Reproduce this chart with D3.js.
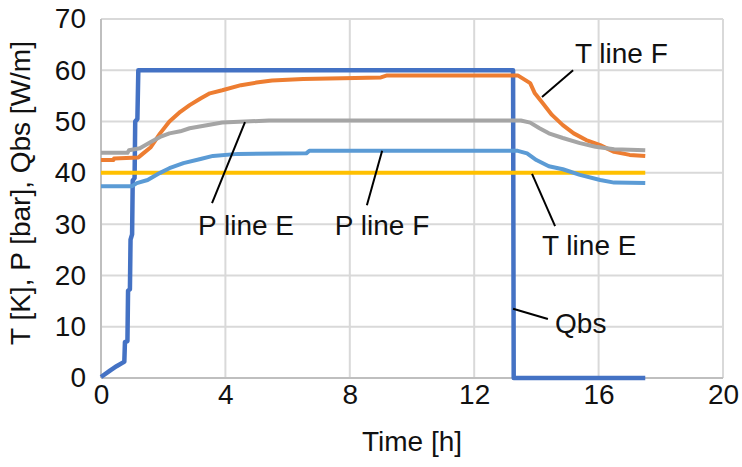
<!DOCTYPE html>
<html>
<head>
<meta charset="utf-8">
<script src="https://cdn.jsdelivr.net/npm/d3@7"></script>
<style>
  body { margin: 0; background: #fff; }
  svg text { font-family: "Liberation Sans", Arial, sans-serif; fill: #111; }
</style>
</head>
<body>
<div id="chart"></div>
<script>
// series, [time h, value]
var qbs = [[0,0.2],[0.3,1.5],[0.5,2.3],[0.7,3],[0.75,3.2],[0.77,7],[0.85,7.2],[0.87,17],[0.93,17.3],
  [0.95,27],[1.0,28],[1.02,38.5],[1.08,39],[1.1,50],[1.17,50.5],[1.2,60],[13.25,60],[13.27,0],[17.5,0]];
var tLineF = [[0,42.5],[0.4,42.5],[0.42,42.8],[1.2,43],[1.3,43.5],[1.6,45],[1.9,47.7],[2.2,50],[2.55,51.9],
  [2.85,53.2],[3.2,54.5],[3.5,55.5],[3.9,56.1],[4.5,57.1],[5,57.6],[5.5,58],[6.5,58.3],[9,58.6],[9.2,59],
  [13.4,59],[13.8,57.5],[13.95,55.5],[14.2,53.6],[14.5,51.3],[14.85,49.3],[15.2,47.7],[15.6,46.4],
  [16.05,45.4],[16.5,44.1],[17,43.5],[17.5,43.3]];
var pLineE = [[0,43.9],[0.85,43.9],[0.9,44.4],[1.25,44.8],[1.6,46],[1.9,47],[2.2,47.7],[2.55,48.1],[2.85,48.7],
  [3.4,49.3],[3.9,49.8],[5.4,50.2],[13.5,50.2],[13.8,49.8],[14.1,48.7],[14.4,47.7],[14.85,46.8],[15.4,45.8],
  [15.9,45.1],[16.5,44.6],[17.5,44.4]];
var tLineE = [[0,40],[17.5,40]];
var pLineF = [[0,37.4],[1.0,37.4],[1.15,38],[1.5,38.6],[1.9,40],[2.2,40.9],[2.65,41.9],[3.2,42.7],[3.6,43.3],
  [4.4,43.7],[6.6,43.8],[6.7,44.3],[13.4,44.3],[13.7,43.8],[14,42.5],[14.4,41.3],[14.85,40.7],[15.4,39.6],
  [16.05,38.6],[16.5,38.1],[17.5,38]];

var seriesNames = ["Qbs", "T line F", "P line E", "T line E", "P line F"];
var seriesData = [qbs, tLineF, pLineE, tLineE, pLineF];
var seriesColors = ["#4472C4", "#ED7D31", "#A5A5A5", "#FFC000", "#5B9BD5"];

var xTicks = [0, 4, 8, 12, 16, 20];
var yTicks = [0, 10, 20, 30, 40, 50, 60, 70];

// callout labels: point on line, end near text, text start (data units)
var calloutNames = ["T line F", "P line E", "P line F", "T line E", "Qbs"];
var calloutFrom = [[14.18,54.8],[4.63,49.9],[9.04,44.3],[13.86,39.8],[13.25,13.5]];
var calloutTo = [[15.18,60.0],[3.57,34.1],[8.55,33.7],[14.6,29.6],[14.37,11.5]];
var calloutText = [[15.24,61.4],[3.12,27.9],[7.52,27.9],[14.18,24.0],[14.6,8.8]];

var width = 742, height = 467;
var margin = {top: 19, right: 19, bottom: 89, left: 101};

var svg = d3.select("#chart").append("svg")
    .attr("width", width)
    .attr("height", height);

var x = d3.scaleLinear().domain([0, 20]).range([margin.left, width - margin.right]);
var y = d3.scaleLinear().domain([0, 70]).range([height - margin.bottom, margin.top]);

// grid
svg.append("g")
    .selectAll("line.hg")
    .data(yTicks.slice(1))
    .enter().append("line")
    .attr("x1", x(0)).attr("x2", x(20))
    .attr("y1", function(d){ return y(d); })
    .attr("y2", function(d){ return y(d); })
    .attr("stroke", "#d9d9d9")
    .attr("stroke-width", 2);

svg.append("g")
    .selectAll("line.vg")
    .data(xTicks.slice(1))
    .enter().append("line")
    .attr("x1", function(d){ return x(d); })
    .attr("x2", function(d){ return x(d); })
    .attr("y1", y(0)).attr("y2", y(70))
    .attr("stroke", "#d9d9d9")
    .attr("stroke-width", 2);

// axis lines
svg.append("line")
    .attr("x1", x(0)).attr("x2", x(20)).attr("y1", y(0)).attr("y2", y(0))
    .attr("stroke", "#bfbfbf").attr("stroke-width", 2);
svg.append("line")
    .attr("x1", x(0)).attr("x2", x(0)).attr("y1", y(0)).attr("y2", y(70))
    .attr("stroke", "#bfbfbf").attr("stroke-width", 2);

var xAxis = svg.append("g")
    .attr("transform", "translate(0," + y(0) + ")")
    .call(d3.axisBottom(x).tickValues(xTicks).tickSize(0).tickPadding(6));
var yAxis = svg.append("g")
    .attr("transform", "translate(" + x(0) + ",0)")
    .call(d3.axisLeft(y).tickValues(yTicks).tickSize(0).tickPadding(15));

[xAxis, yAxis].forEach(function(a){
    a.select(".domain").remove();
    a.selectAll("text")
        .attr("font-size", "28px")
        .attr("font-family", "Liberation Sans, Arial, sans-serif")
        .attr("fill", "#111");
});

// series
var line = d3.line()
    .x(function(d){ return x(d[0]); })
    .y(function(d){ return y(d[1]); });

svg.append("g")
    .selectAll("path")
    .data(seriesData)
    .enter().append("path")
    .attr("d", line)
    .attr("fill", "none")
    .attr("stroke", function(d, i){ return seriesColors[i]; })
    .attr("stroke-width", function(d, i){ return i == 0 ? 4.5 : 4; })
    .attr("stroke-linejoin", "round");

// callouts
var co = svg.append("g");
calloutNames.forEach(function(name, i){
    co.append("line")
        .attr("x1", x(calloutFrom[i][0])).attr("y1", y(calloutFrom[i][1]))
        .attr("x2", x(calloutTo[i][0])).attr("y2", y(calloutTo[i][1]))
        .attr("stroke", "#000")
        .attr("stroke-width", 2);
    co.append("text")
        .attr("x", x(calloutText[i][0]))
        .attr("y", y(calloutText[i][1]))
        .attr("font-size", "28px")
        .text(name);
});

// axis titles
svg.append("text")
    .attr("x", (x(0) + x(20)) / 2)
    .attr("y", 451)
    .attr("text-anchor", "middle")
    .attr("font-size", "28px")
    .text("Time [h]");

svg.append("text")
    .attr("transform", "translate(30," + 193 + ") rotate(-90)")
    .attr("text-anchor", "middle")
    .attr("font-size", "28px")
    .text("T [K], P [bar], Qbs [W/m]");
</script>
</body>
</html>
